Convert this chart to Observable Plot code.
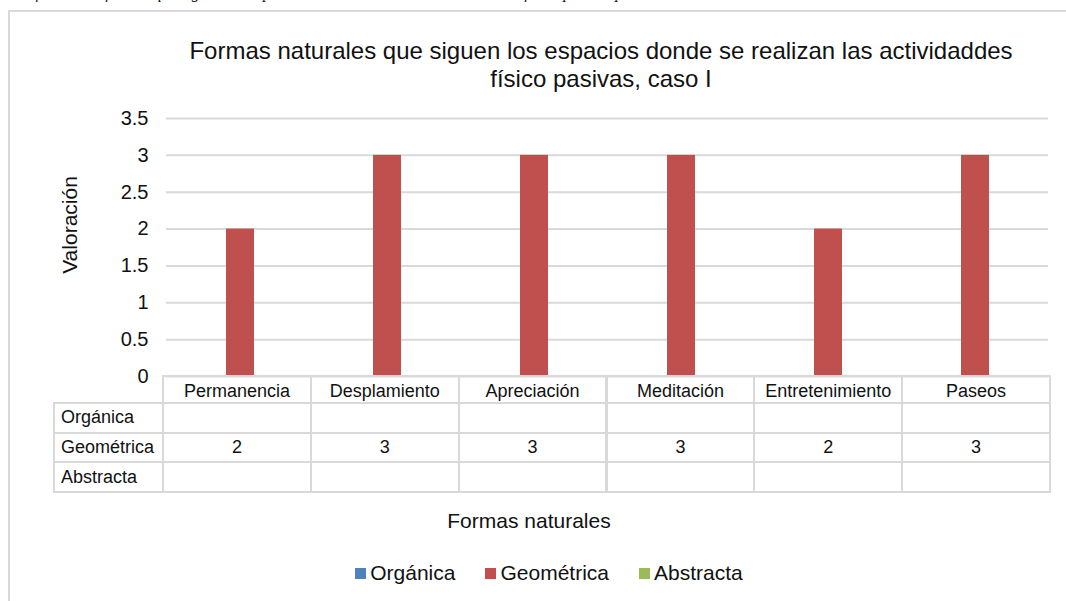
<!DOCTYPE html>
<html>
<head>
<meta charset="utf-8">
<script src="https://cdn.jsdelivr.net/npm/d3@7"></script>
<script src="https://cdn.jsdelivr.net/npm/@observablehq/plot@0.6"></script>
<style>
  html, body { margin: 0; padding: 0; background: #fff; overflow: hidden; }
  body { width: 1066px; height: 601px; position: relative; font-family: "Liberation Sans", Arial, sans-serif; color: #111; }
  .abs { position: absolute; }
  .cell { position: absolute; box-sizing: border-box; display: flex; align-items: center; font-size: 18px; white-space: nowrap; }
</style>
</head>
<body>
<div class="abs" style="left:10px; top:0; width:1066px; height:5px; overflow:hidden;"><div style="position:absolute; left:0; top:-15px; font:italic 16px/16px 'Liberation Serif', serif; white-space:nowrap;">Gráfico de las formas que siguen los espacios donde se realizan las actividades físico pasivas para el caso I</div></div>
<div class="abs" style="left:8px; top:10px; width:1100px; height:700px; border:2px solid #d9d9d9; box-sizing:border-box;"></div>
<div id="chart" class="abs" style="left:0; top:0;"></div>
<div class="abs" style="left:0; width:1202px; top:37px; text-align:center; font-size:24px; line-height:28px;">Formas naturales que siguen los espacios donde se realizan las actividaddes<br>físico pasivas, caso I</div>
<div class="abs" style="left:40px; top:225px; width:0; height:0;"><div style="position:absolute; transform:translate(-50%,-50%) rotate(-90deg); left:30px; font-size:21px; white-space:nowrap;">Valoración</div></div>
<div class="abs" style="left:0; width:1058px; top:509px; text-align:center; font-size:21px;">Formas naturales</div>
<div id="table"></div>
<div id="legend" class="abs" style="left:0; width:1098px; top:561px; display:flex; justify-content:center; gap:30px; font-size:21px;"></div>
<script>
const categories = ["Permanencia", "Desplamiento", "Apreciación", "Meditación", "Entretenimiento", "Paseos"];
const series = ["Orgánica", "Geométrica", "Abstracta"];
const organica = [null, null, null, null, null, null];
const geometrica = [2, 3, 3, 3, 2, 3];
const abstracta = [null, null, null, null, null, null];
const colors = ["#4f81bd", "#c0504d", "#9bbb59"];
const yTicks = [0, 0.5, 1, 1.5, 2, 2.5, 3, 3.5];

const seriesValues = [organica, geometrica, abstracta];
const data = [];
categories.forEach((c, i) => {
  series.forEach((s, j) => {
    const v = seriesValues[j][i];
    if (v != null) data.push({cat: c, serie: s, value: v});
  });
});

const W = 1066, H = 601;
const mLeft = 163, mRight = 16, mTop = 118, mBottom = H - 376;

const plot = Plot.plot({
  width: W, height: H,
  marginLeft: mLeft, marginRight: mRight, marginTop: mTop, marginBottom: mBottom,
  style: {fontFamily: "'Liberation Sans', Arial, sans-serif", background: "transparent", color: "#111"},
  fx: {domain: categories, padding: 0, axis: null, label: null},
  x: {domain: series, paddingInner: 0, paddingOuter: 1.1, axis: null, label: null},
  y: {domain: [0, 3.5], label: null},
  color: {domain: series, range: colors},
  marks: [
    Plot.gridY(yTicks, {stroke: "#d9d9d9", strokeOpacity: 1, strokeWidth: 2}),
    Plot.barY(data, {fx: "cat", x: "serie", y: "value", fill: "serie"}),
    Plot.axisY(yTicks, {tickSize: 0, tickPadding: 18, fontSize: 20, tickFormat: d => String(d), label: null, fill: "#111"})
  ]
});
document.getElementById("chart").appendChild(plot);

// data table under the chart
const colW = (W - mLeft - mRight) / categories.length;
const table = document.getElementById("table");
const border = "2px solid #d9d9d9";
const rowsY = [376, 403, 432.5, 462, 492];
function cell(x, y, w, h, text, align, pad) {
  const d = document.createElement("div");
  d.className = "cell";
  d.style.left = (x - 1) + "px";
  d.style.top = (y - 1) + "px";
  d.style.width = (w + 2) + "px";
  d.style.height = (h + 2) + "px";
  d.style.border = border;
  d.style.justifyContent = align === "left" ? "flex-start" : "center";
  if (align === "left") d.style.paddingLeft = "6px";
  if (pad) d.style.paddingTop = pad + "px";
  d.textContent = text;
  table.appendChild(d);
}
categories.forEach((c, i) => {
  const x0 = mLeft + i * colW;
  cell(x0, rowsY[0], colW, rowsY[1] - rowsY[0], c, "center", 3);
});
series.forEach((s, j) => {
  const y0 = rowsY[j + 1], h = rowsY[j + 2] - rowsY[j + 1];
  cell(54, y0, mLeft - 54, h, s, "left");
  categories.forEach((c, i) => {
    const x0 = mLeft + i * colW;
    const v = seriesValues[j][i];
    cell(x0, y0, colW, h, v == null ? "" : String(v), "center");
  });
});

// legend
const legend = document.getElementById("legend");
series.forEach((s, j) => {
  const item = document.createElement("div");
  item.style.display = "flex";
  item.style.alignItems = "center";
  item.style.gap = "4px";
  const sw = document.createElement("span");
  sw.style.display = "inline-block";
  sw.style.width = "11px"; sw.style.height = "11px";
  sw.style.background = colors[j];
  const t = document.createElement("span");
  t.textContent = s;
  item.appendChild(sw); item.appendChild(t);
  legend.appendChild(item);
});
</script>
</body>
</html>
